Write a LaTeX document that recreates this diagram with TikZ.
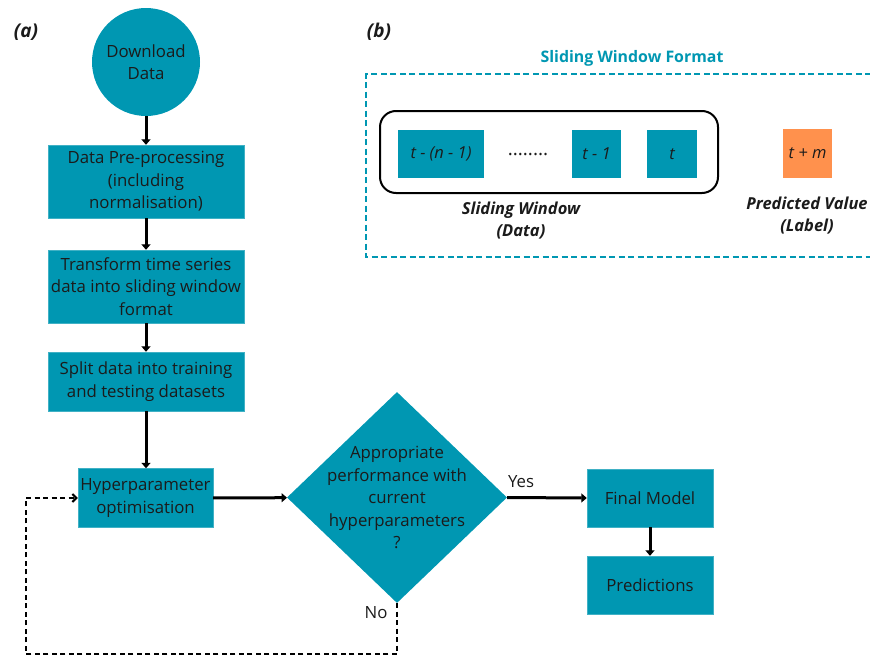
\documentclass[tikz,border=0pt]{standalone}
\usepackage{fontspec}
\setmainfont{Open Sans}
\usetikzlibrary{arrows.meta,shapes.geometric}
\definecolor{boxteal}{HTML}{0097B2}
\definecolor{ink}{HTML}{1B1B1B}
\definecolor{predorange}{HTML}{FF914D}
\begin{document}
\begin{tikzpicture}[x=1pt,y=-1pt,
  txt/.style={text=ink,align=center,font=\fontsize{16.8}{22.5}\selectfont},
  proc/.style={txt,fill=boxteal,draw=boxteal!75!white,line width=0.4pt,inner sep=0pt},
  cell/.style={fill=boxteal,inner sep=0pt,text=ink,font=\fontsize{16.5}{18}\selectfont\itshape},
  flow/.style={line width=3pt,-{Triangle[length=5.5pt,width=9pt]}},
  retry/.style={line width=2pt,dash pattern=on 5pt off 3.5pt,-{Straight Barb[length=4pt,width=8pt]}},
  panel/.style={text=ink,font=\fontsize{19}{22}\selectfont\bfseries\itshape},
  caption/.style={text=ink,align=center,font=\fontsize{16.5}{22}\selectfont\bfseries\itshape}]
\useasboundingbox (0,0) rectangle (870,656);

% ---- (a) workflow ----
\node[panel] (la) at (26,32) {(a)};
\node[txt,circle,fill=boxteal,minimum size=108pt,inner sep=0pt] (dl) at (146,62) {Download\\Data};
\node[proc,minimum width=196pt,minimum height=73pt] (pre) at (146,181.5) {Data Pre-processing\\(including\\normalisation)};
\node[proc,minimum width=196pt,minimum height=73pt] (tr) at (146,286.5) {Transform time series\\data into sliding window\\format};
\node[proc,minimum width=196pt,minimum height=59pt] (split) at (146,381.5) {Split data into training\\and testing datasets};
\node[proc,minimum width=135pt,minimum height=59pt] (hyp) at (145.5,498) {Hyperparameter\\optimisation};
\node[diamond,fill=boxteal,minimum width=220pt,minimum height=211pt,inner sep=0pt] (dec) at (397,497.5) {};
\node[txt] (dectext) at (dec.center) {Appropriate\\performance with\\current\\hyperparameters\\?};
\node[proc,minimum width=126pt,minimum height=58pt] (final) at (650,498) {Final Model};
\node[proc,minimum width=126pt,minimum height=58pt] (pred) at (650,585) {Predictions};

\draw[flow] (dl) -- (pre);
\draw[flow] (pre) -- (tr);
\draw[flow] (tr) -- (split);
\draw[flow] (split.south) -- (split.south |- hyp.north);
\draw[flow] (hyp) -- (dec);
\draw[flow] (dec.east) -- (final.west);
\node[txt] (yes) at (521,482) {Yes};
\draw[flow] (final) -- (pred);

\coordinate (loopcorner) at (26,654);
\draw[retry] (dec.south) -- (dec.south |- loopcorner) -- (loopcorner) |- (hyp.west);
\node[txt] (no) at (376,613) {No};

% ---- (b) sliding window format ----
\node[panel] (lb) at (379,32) {(b)};
\node[text=boxteal,font=\fontsize{15.9}{18}\selectfont\bfseries] (title) at (632,58) {Sliding Window Format};
\draw[boxteal,line width=2pt,dash pattern=on 6pt off 3.5pt] (871,74) -- (366,74) -- (366,257) -- (871,257);

\node[draw=black,line width=2pt,rounded corners=16pt,minimum width=338pt,minimum height=82pt] (win) at (549,152) {};
\node[cell,minimum width=86pt,minimum height=48pt] (c1) at (441,154) {t - (n - 1)};
\node[text=ink,font=\fontsize{19}{20}\selectfont] (dots) at (528,155) {........};
\node[cell,minimum width=49pt,minimum height=48pt] (c2) at (596.5,154) {t - 1};
\node[cell,minimum width=50pt,minimum height=48pt] (c3) at (672,154) {t};
\node[cell,fill=predorange,minimum width=49pt,minimum height=49pt] (cm) at (807.5,153.5) {t + m};

\node[caption] (swl) at (521,221) {Sliding Window\\(Data)};
\node[caption] (pvl) at (807,216) {Predicted Value\\(Label)};
\end{tikzpicture}
\end{document}
